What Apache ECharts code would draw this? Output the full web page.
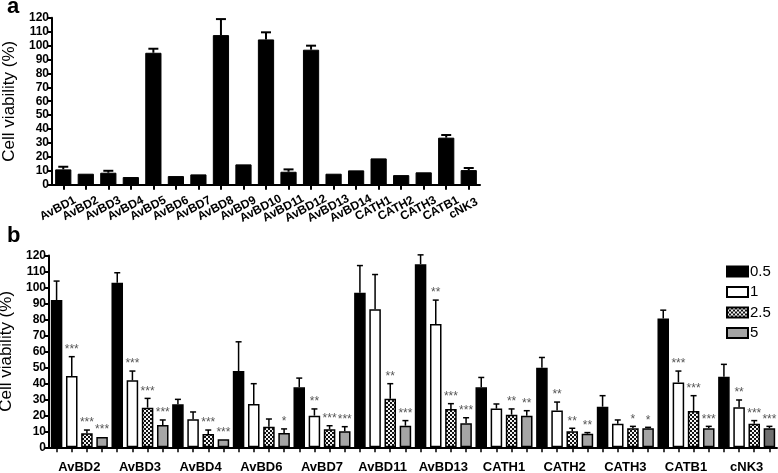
<!DOCTYPE html>
<html>
<head>
<meta charset="utf-8">
<script src="https://cdn.jsdelivr.net/npm/echarts@6/dist/echarts.min.js"></script>
<style>
html,body{margin:0;padding:0;background:#fff;}
#c{width:778px;height:473px;}
</style>
</head>
<body>
<div id="c"></div>
<script>
// ---------- Panel a data ----------
const catsA = ['AvBD1','AvBD2','AvBD3','AvBD4','AvBD5','AvBD6','AvBD7','AvBD8','AvBD9','AvBD10','AvBD11','AvBD12','AvBD13','AvBD14','CATH1','CATH2','CATH3','CATB1','cNK3'];
const valsA = [11.0, 7.9, 8.6, 5.5, 94.8, 6.2, 7.4, 107.5, 14.6, 104.4, 9.3, 97.0, 7.9, 10.3, 18.9, 6.9, 8.9, 33.8, 10.5];
const sdA   = [1.9, 0, 1.4, 0, 2.9, 0, 0, 11.5, 0, 5.1, 1.7, 2.9, 0, 0, 0, 0, 0, 1.9, 1.5];

// ---------- Panel b data ----------
const groupsB = ['AvBD2','AvBD3','AvBD4','AvBD6','AvBD7','AvBD11','AvBD13','CATH1','CATH2','CATH3','CATB1','cNK3'];
const doses = ['0.5','1','2.5','5'];
const vals05 = [92.1, 102.9, 26.9, 47.7, 37.5, 96.7, 114.6, 37.5, 49.8, 25.4, 80.6, 44.2];
const sd05   = [11.9, 6.3, 3.1, 18.3, 5.8, 17.0, 5.8, 6.2, 6.4, 6.9, 5.2, 7.7];
const vals1  = [44.6, 41.9, 17.5, 27.1, 19.8, 86.3, 77.1, 24.2, 23.1, 14.8, 40.6, 25.0];
const sd1    = [12.1, 5.8, 4.6, 12.7, 4.2, 21.8, 15.0, 2.9, 5.2, 2.3, 7.1, 4.6];
const vals25 = [8.8, 24.8, 8.3, 12.9, 11.3, 30.4, 24.0, 20.4, 10.0, 11.9, 22.7, 14.8];
const sd25   = [2.0, 5.8, 2.5, 4.8, 2.2, 9.4, 3.3, 3.6, 1.9, 1.2, 9.6, 1.9];
const vals5  = [6.5, 14.0, 5.0, 9.0, 10.0, 13.5, 15.0, 19.8, 8.5, 11.9, 11.9, 11.9];
const sd5    = [0, 3.1, 0, 2.5, 2.9, 3.2, 3.5, 3.1, 0.7, 0.6, 1.2, 1.2];
const sig05  = ['','','','','','','','','','','',''];
const sig1   = ['***','***','','','**','','**','','**','','***','**'];
const sig25  = ['***','***','***','','***','**','***','**','**','*','***','***'];
const sig5   = ['***','***','***','*','***','***','***','**','**','*','***','***'];
const yTicks = [0,10,20,30,40,50,60,70,80,90,100,110,120];

// checker pattern
const pc = document.createElement('canvas');
pc.width = 4; pc.height = 4;
const pctx = pc.getContext('2d');
pctx.fillStyle = '#f2f2f2'; pctx.fillRect(0,0,4,4);
pctx.fillStyle = '#111';
pctx.fillRect(0,0,2,2); pctx.fillRect(2,2,2,2);
const checker = {image: pc, repeat: 'repeat'};

const FONT = 'Liberation Sans, Arial, sans-serif';

function errRenderer(sdArr, sigArr, doseIdx, nDoses, capHalf, lw) {
  return function (params, api) {
    const i = params.dataIndex;
    const ci = api.value(0), m = api.value(1);
    const sd = sdArr[i];
    const band = api.size([1, 0])[0];
    const off = nDoses > 1 ? (doseIdx - (nDoses - 1) / 2) * band / nDoses : 0;
    const p0 = api.coord([ci, m]);
    const p1 = api.coord([ci, m + sd]);
    const x = p0[0] + off;
    const children = [];
    if (sd > 0) {
      children.push({type: 'line', shape: {x1: x, y1: p0[1], x2: x, y2: p1[1]}, style: {stroke: '#000', lineWidth: lw}});
      children.push({type: 'line', shape: {x1: x - capHalf, y1: p1[1], x2: x + capHalf, y2: p1[1]}, style: {stroke: '#000', lineWidth: lw}});
    }
    const s = sigArr ? sigArr[i] : '';
    if (s) {
      children.push({type: 'text', style: {text: s, x: x, y: p1[1] - 1, align: 'center', verticalAlign: 'bottom', fill: '#555', fontSize: 12, fontFamily: FONT}});
    }
    return {type: 'group', children: children};
  };
}

const yAxisCommon = {
  type: 'value', min: 0, max: 120, interval: 10,
  axisLine: {show: true, lineStyle: {color: '#000', width: 2}},
  axisTick: {show: true, length: 5, lineStyle: {color: '#000', width: 2}},
  axisLabel: {color: '#000', fontWeight: 'bold', fontSize: 12, fontFamily: FONT, margin: 3,
              formatter: v => yTicks.indexOf(v) >= 0 ? String(v) : ''},
  splitLine: {show: false},
  name: 'Cell viability (%)', nameLocation: 'middle',
  nameTextStyle: {color: '#000', fontSize: 17, fontFamily: FONT}
};

const barSeriesB = [
  {vals: vals05, sd: sd05, sig: sig05, color: '#000'},
  {vals: vals1, sd: sd1, sig: sig1, color: '#fff'},
  {vals: vals25, sd: sd25, sig: sig25, color: checker},
  {vals: vals5, sd: sd5, sig: sig5, color: '#a5a5a5'}
];

const series = [];
// panel a bars
series.push({
  type: 'bar', xAxisIndex: 0, yAxisIndex: 0, data: valsA, barWidth: '72%',
  itemStyle: {color: '#000', borderColor: '#000', borderWidth: 1}, silent: true
});
series.push({
  type: 'custom', xAxisIndex: 0, yAxisIndex: 0, z: 5, silent: true,
  data: valsA.map((v, i) => [i, v]), encode: {x: 0, y: 1},
  renderItem: errRenderer(sdA, null, 0, 1, 5, 2)
});
// panel b bars
barSeriesB.forEach((b, k) => {
  const data = b.vals.map((v, i) => (k === 3 && i === b.vals.length - 1)
    ? {value: v, itemStyle: {color: '#707070'}} : v);
  series.push({
    name: doses[k], type: 'bar', xAxisIndex: 1, yAxisIndex: 1, data: data,
    barWidth: '19%', barGap: '31.6%',
    itemStyle: {color: b.color, borderColor: '#000', borderWidth: 1.5}, silent: true
  });
});
barSeriesB.forEach((b, k) => {
  series.push({
    type: 'custom', xAxisIndex: 1, yAxisIndex: 1, z: 5, silent: true,
    data: b.vals.map((v, i) => [i, v]), encode: {x: 0, y: 1},
    renderItem: errRenderer(b.sd, b.sig, k, 4, 3, 1.5)
  });
});

const option = {
  animation: false,
  backgroundColor: '#fff',
  title: [
    {text: 'a', left: 2, top: -9, textStyle: {fontSize: 22, fontWeight: 'bold', color: '#000', fontFamily: FONT}},
    {text: 'b', left: 2, top: 220, textStyle: {fontSize: 22, fontWeight: 'bold', color: '#000', fontFamily: FONT}}
  ],
  legend: {
    data: doses, orient: 'vertical', left: 726, top: 264, itemWidth: 21, itemHeight: 10, itemGap: 5.5,
    padding: 0, selectedMode: false, icon: 'rect',
    textStyle: {fontSize: 15, color: '#000', fontFamily: FONT, padding: [0, 0, 0, -3]}
  },
  grid: [
    {left: 52, top: 17.7, width: 428, height: 167, containLabel: false, outerBoundsMode: 'none'},
    {left: 49, top: 255.5, width: 728, height: 191.8, containLabel: false, outerBoundsMode: 'none'}
  ],
  xAxis: [
    {type: 'category', gridIndex: 0, data: catsA,
     axisLine: {show: true, lineStyle: {color: '#000', width: 2}},
     axisTick: {show: true, alignWithLabel: true, interval: 0, length: 5, lineStyle: {color: '#000', width: 2}},
     axisLabel: {interval: 0, rotate: 28, align: 'center', verticalAlign: 'middle', padding: [0, 12, 0, 0], margin: 21,
                 color: '#000', fontWeight: 'bold', fontSize: 12, fontFamily: FONT}},
    {type: 'category', gridIndex: 1, data: groupsB,
     axisLine: {show: true, lineStyle: {color: '#000', width: 2}},
     axisTick: {show: false},
     axisLabel: {interval: 0, margin: 14, color: '#000', fontWeight: 'bold', fontSize: 13, fontFamily: FONT}},
    {type: 'category', gridIndex: 1, data: Array(groupsB.length * 4).fill(''), position: 'bottom',
     axisLine: {show: false},
     axisTick: {show: true, alignWithLabel: true, interval: 0, length: 5, lineStyle: {color: '#000', width: 1.5}},
     axisLabel: {show: false, interval: 0}}
  ],
  yAxis: [
    Object.assign({}, yAxisCommon, {gridIndex: 0, nameGap: 33}),
    Object.assign({}, yAxisCommon, {gridIndex: 1, nameGap: 30})
  ],
  series: series
};

const chart = echarts.init(document.getElementById('c'), null, {renderer: 'canvas'});
chart.setOption(option);
</script>
</body>
</html>
